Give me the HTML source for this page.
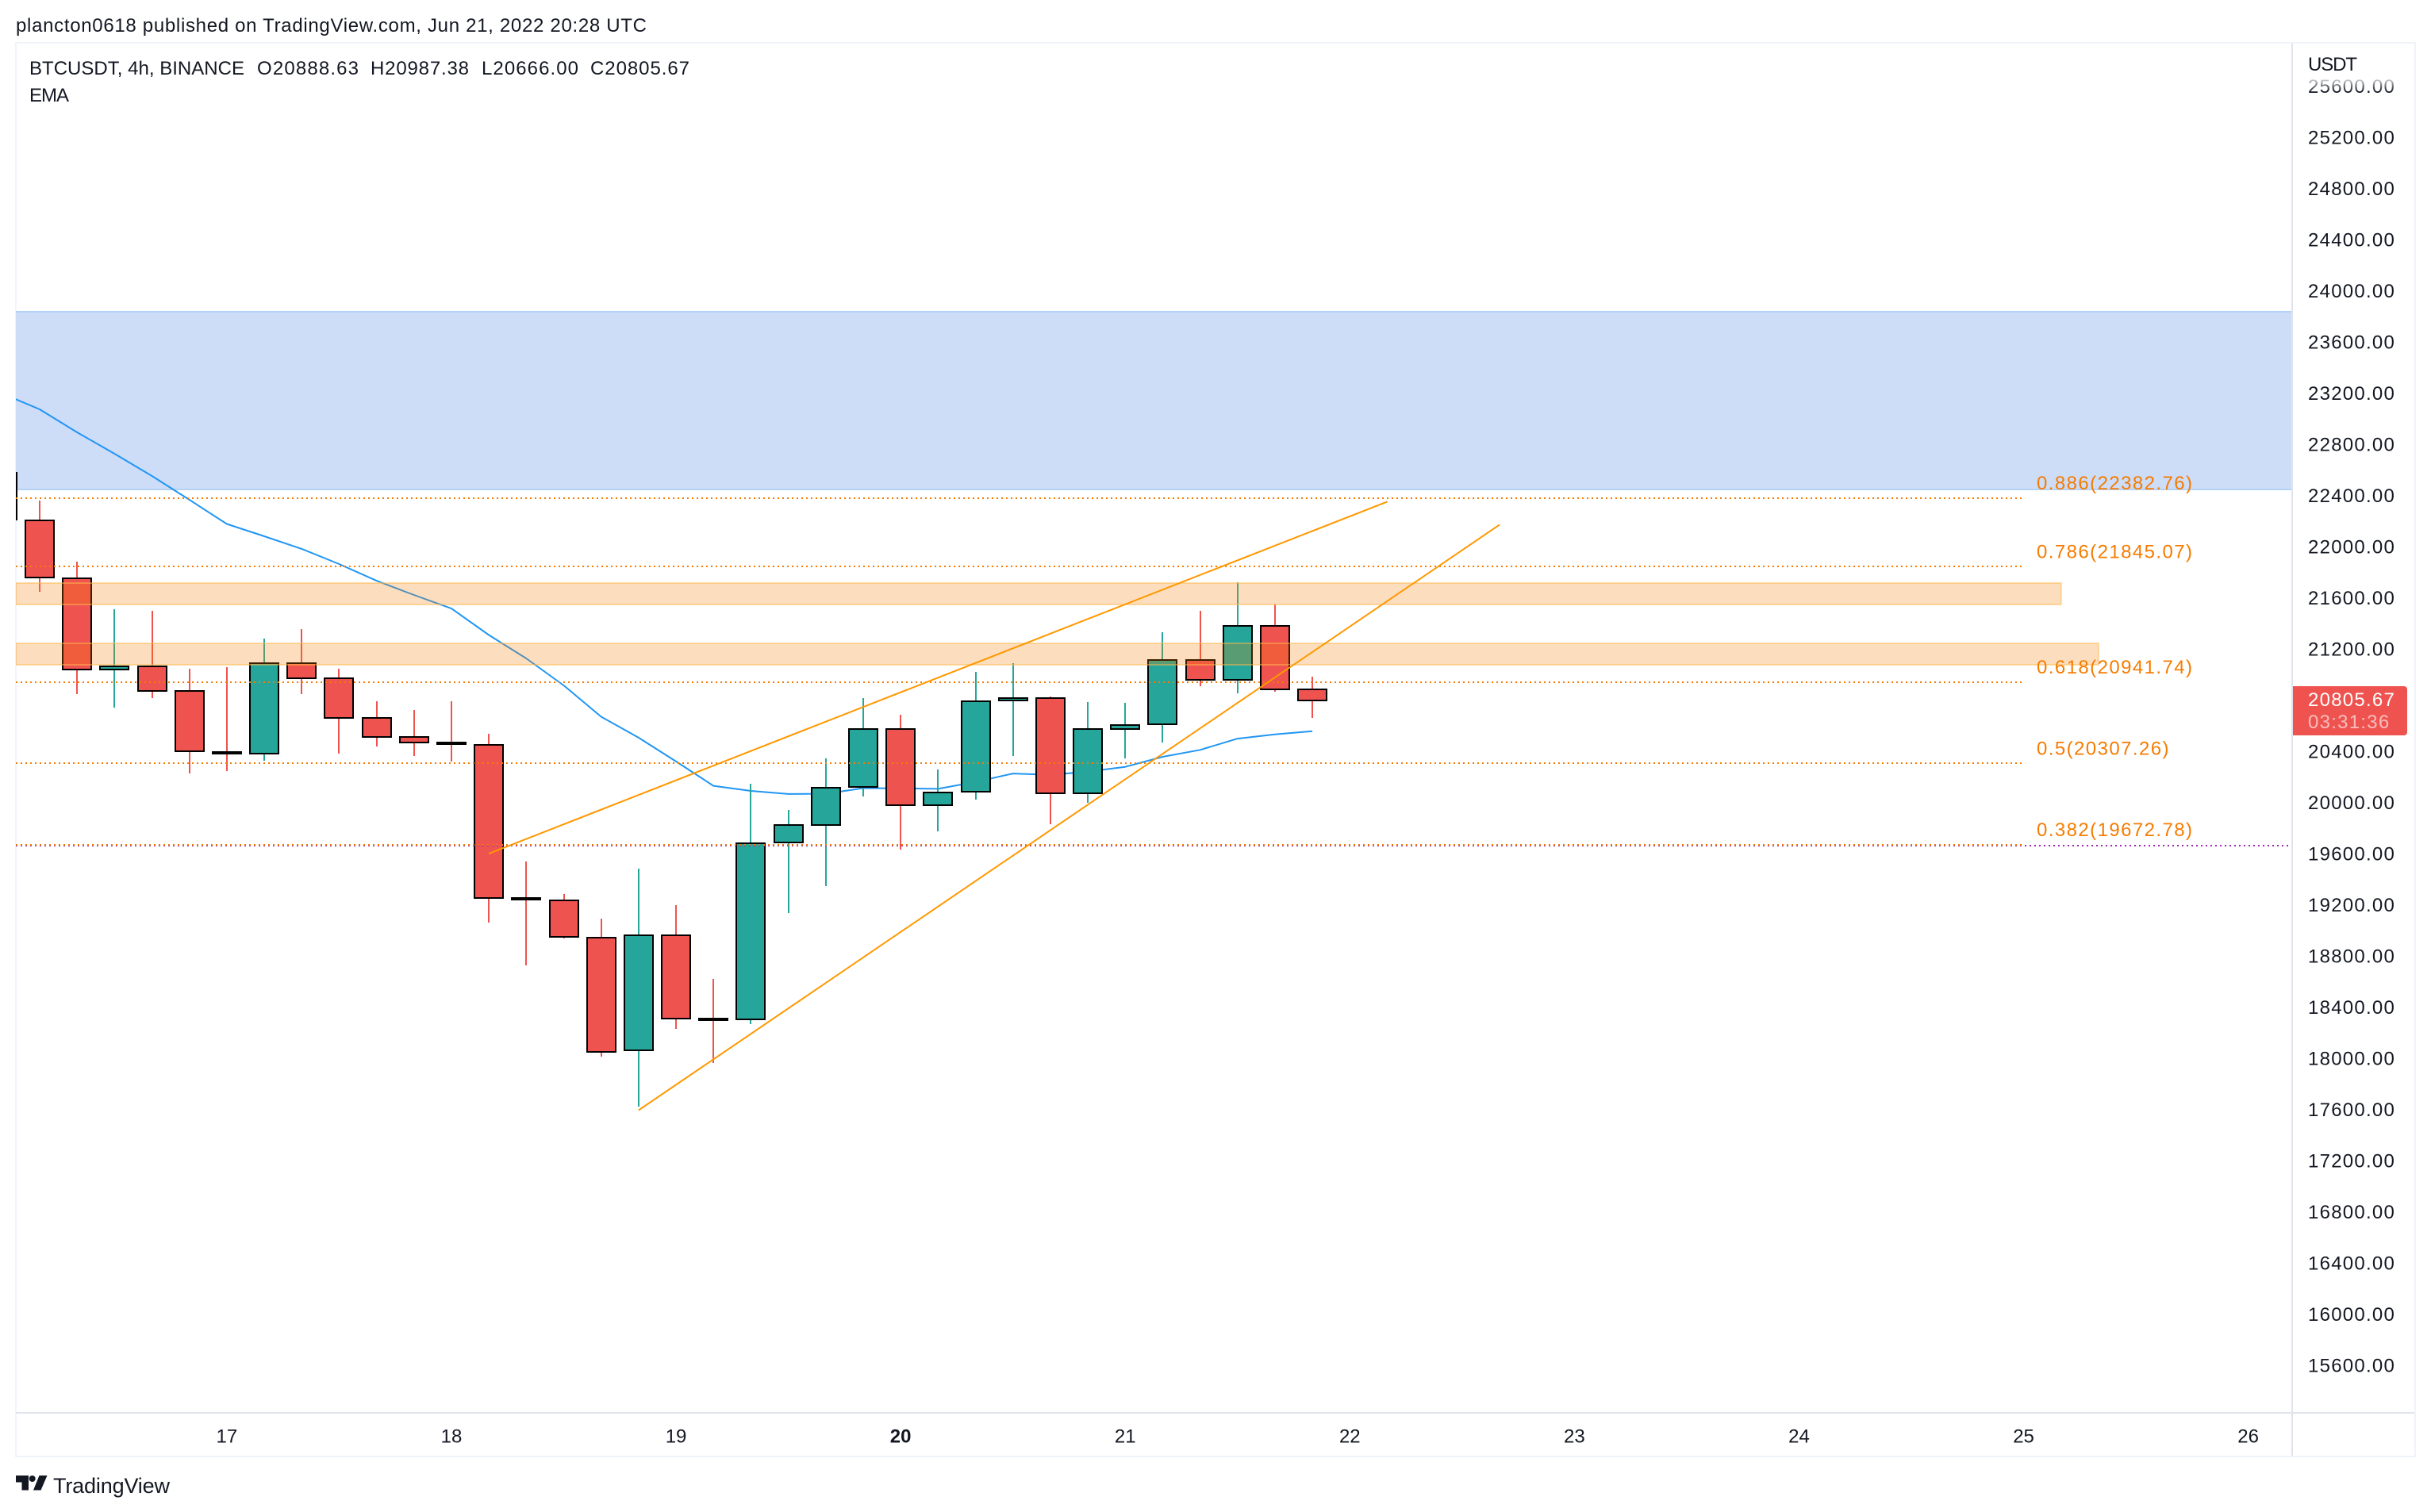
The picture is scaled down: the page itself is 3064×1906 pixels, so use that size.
<!DOCTYPE html>
<html lang="en">
<head>
<meta charset="utf-8">
<title>BTCUSDT 4h chart</title>
<style>
html,body{margin:0;padding:0;background:#fff;width:3064px;height:1906px;overflow:hidden}
svg{display:block}
text{font-family:"Liberation Sans",sans-serif;font-size:24px;fill:#131722}
</style>
</head>
<body>
<svg id="root" xmlns="http://www.w3.org/2000/svg" width="3064" height="1906" viewBox="0 0 3064 1906">
  <defs>
    <clipPath id="plot-clip"><rect x="20" y="55" width="2868" height="1725"/></clipPath>
    <linearGradient id="fade" x1="0" y1="0" x2="0" y2="1">
      <stop offset="0" stop-color="#fff" stop-opacity="1"/>
      <stop offset="1" stop-color="#fff" stop-opacity="0"/>
    </linearGradient>
  </defs>
  <text x="20" y="40" textLength="795" lengthAdjust="spacing">plancton0618 published on TradingView.com, Jun 21, 2022 20:28 UTC</text>

  <rect x="19" y="53" width="2" height="1784" fill="#f0f3fa"/>
  <g id="plot" clip-path="url(#plot-clip)"></g>
  <g id="axis-labels"></g>

  <rect x="2895" y="96" width="140" height="20" fill="url(#fade)"/>
  <rect x="2895" y="56" width="140" height="40" fill="#fff"/>
  <text x="2909" y="89" textLength="62" lengthAdjust="spacing">USDT</text>

  <path d="M2888 865H3030a4 4 0 0 1 4 4V923a4 4 0 0 1-4 4H2888Z" fill="#ef5350"/>
  <text x="2909" y="890" style="fill:#fff;letter-spacing:1.25px">20805.67</text>
  <text x="2909" y="918" style="fill:#fff;fill-opacity:.62;letter-spacing:1.25px">03:31:36</text>

  <rect x="2888" y="54" width="2" height="1782" fill="#e0e3eb"/>
  <rect x="20" y="1780" width="3024" height="2" fill="#e0e3eb"/>
  <rect x="19" y="53" width="3026" height="2" fill="#f0f3fa"/>
  <rect x="19" y="1835" width="3026" height="2" fill="#f0f3fa"/>
  <rect x="3043" y="53" width="2" height="1784" fill="#f0f3fa"/>

  <text x="37" y="94" textLength="271" lengthAdjust="spacing">BTCUSDT, 4h, BINANCE</text>
  <text x="324" y="94" textLength="128" lengthAdjust="spacing">O20888.63</text>
  <text x="467" y="94" textLength="124" lengthAdjust="spacing">H20987.38</text>
  <text x="607" y="94" textLength="122" lengthAdjust="spacing">L20666.00</text>
  <text x="744" y="94" textLength="125" lengthAdjust="spacing">C20805.67</text>
  <text x="37" y="128" textLength="50" lengthAdjust="spacing">EMA</text>

  <g>
    <path d="M20 1860H36V1878.5H27.5V1868.5H20ZM49.5 1860H59.5L51.5 1878.5H42Z" fill="#131722"/>
    <circle cx="40.7" cy="1864" r="4" fill="#131722"/>
  </g>
  <text x="67" y="1882" textLength="147" lengthAdjust="spacing" style="font-size:27px">TradingView</text>
</svg>

<script>
// Bars are numbered from -1 (the partly hidden bar at the left edge) to 34.
const firstBar = -1;
const opens  = [22583,22211,21758,21045,21070,20875,20400,20389,21096,20975,20664,20518,20472,20457,19258,19240,18951,18066,18968,18316,18309,19694,19832,20126,20577,19984,20092,20803,20822,20077,20582,20617,21119,20964,21388,20888.63];
const highs  = [22600,22366,21886,21514,21502,21049,21064,21284,21364,21049,20795,20726,20795,20541,19542,19292,19100,19491,19204,18625,20151,19945,20349,20820,20692,20261,21024,21092,20835,20791,20786,21336,21504,21727,21552,20987.38];
const lows   = [22200,21654,20854,20750,20823,20234,20254,20334,20854,20389,20446,20369,20325,19069,18734,18944,18018,17625,18233,17966,18270,19138,19354,20055,19640,19780,20030,20371,19837,20003,20349,20476,20915,20861,20873,20666.00];
const closes = [22217,21766,21046,21070,20875,20406,20390,21096,20975,20664,20518,20472,20462,19259,19248,18955,18056,18968,18316,18306,19689,19827,20121,20577,19984,20084,20798,20822,20077,20577,20611,21119,20964,21388,20890,20805.67];
const emaValues = [23203,23079,22899,22732,22558,22372,22183,22087,21988,21870,21739,21628,21522,21315,21132,20921,20676,20512,20326,20136,20096,20072,20074,20118,20116,20112,20166,20232,20222,20247,20284,20363,20417,20505,20538,20563];
const priceTicks = [25600,25200,24800,24400,24000,23600,23200,22800,22400,22000,21600,21200,20800,20400,20000,19600,19200,18800,18400,18000,17600,17200,16800,16400,16000,15600];
const dayLabels = [17,18,19,20,21,22,23,24,25,26];
const dayStartBars = [5,11,17,23,29,35,41,47,53,59];
const boldDay = 20;
const fibRatios = ["0.886","0.786","0.618","0.5","0.382"];
const fibPrices = [22382.76,21845.07,20941.74,20307.26,19672.78];
const fibEndBar = 53;
const orangeZoneTops = [21723,21250];
const orangeZoneBottoms = [21553,21082];
const orangeZoneEndBars = [54,55];
const blueZoneTop = 23842;
const blueZoneBottom = 22453;
const trendStartBars = [12,16];
const trendStartPrices = [19606,17600];
const trendEndBars = [36,39];
const trendEndPrices = [22357,22177];

const X = i => 50 + 47.18 * i;
const Y = p => 174 + (25200 - p) * 0.16125;
const NS = 'http://www.w3.org/2000/svg';
const plot = document.getElementById('plot');
const axisLabels = document.getElementById('axis-labels');

function mk(tag, parent, attrs) {
  const el = document.createElementNS(NS, tag);
  for (const k in attrs) el.setAttribute(k, attrs[k]);
  parent.appendChild(el);
  return el;
}

// Blue supply zone
const blueTop = Math.round(Y(blueZoneTop));
const blueBottom = Math.round(Y(blueZoneBottom));
const blue = mk('rect', plot, {x: 20, y: blueTop, width: 2868, height: blueBottom - blueTop, fill: '#cddcf7'});


const blueEdgeTop = mk('rect', plot, {x: 20, y: blueTop - 1, width: 2868, height: 2, fill: '#b4d2f5'});


const blueEdgeBottom = mk('rect', plot, {x: 20, y: blueBottom - 1, width: 2868, height: 2, fill: '#b4d2f5'});



// EMA
const emaPath = emaValues.map((v, k) => (k ? 'L' : 'M') + X(firstBar + k).toFixed(1) + ' ' + Y(v).toFixed(1)).join('');
const ema = mk('path', plot, {d: emaPath, fill: 'none', stroke: '#2196f3', 'stroke-width': 2, 'stroke-linejoin': 'round'});



// Candles
opens.forEach((o, k) => {
  const c = closes[k];
  const col = c >= o ? '#26a69a' : '#ef5350';
  const cx = Math.round(X(firstBar + k));
  const g = mk('g', plot, {});
  
  
  const wickTop = Math.round(Y(highs[k]));
  const wick = mk('rect', g, {x: cx - 1, y: wickTop, width: 2, height: Math.round(Y(lows[k])) - wickTop, fill: col, 'shape-rendering': 'crispEdges'});
  
  
  const top = Math.round(Y(Math.max(o, c)));
  const h = Math.max(2, Math.round(Y(Math.min(o, c))) - top);
  const body = mk('rect', g, {x: cx - 18, y: top, width: 36, height: h, fill: col, stroke: '#000', 'stroke-width': 2, 'shape-rendering': 'crispEdges'});
  
  
});

// Purple extension of the 0.382 level
const lastFib = fibPrices[fibPrices.length - 1];
const purpleY = Math.floor(Y(lastFib)) + 1;
const purple = mk('line', plot, {x1: 20, x2: 2884, y1: purpleY, y2: purpleY, stroke: '#9c27b0', 'stroke-width': 2, 'stroke-dasharray': '2 4', 'shape-rendering': 'crispEdges'});



// Fibonacci levels
fibPrices.forEach((p, k) => {
  const ly = Math.floor(Y(p));
  const line = mk('line', plot, {x1: 20, x2: X(fibEndBar), y1: ly, y2: ly, stroke: '#f57c00', 'stroke-width': 2, 'stroke-dasharray': '2 4', 'shape-rendering': 'crispEdges'});
  
  
});

// Orange zones
orangeZoneTops.forEach((t, k) => {
  const zt = Math.round(Y(t));
  const z = mk('rect', plot, {x: 20, y: zt, width: X(orangeZoneEndBars[k]) - 20, height: Math.round(Y(orangeZoneBottoms[k])) - zt, fill: 'rgba(245,124,0,.25)', stroke: 'rgba(255,183,77,.5)', 'stroke-width': 2});
  
  
});

// Trend lines
trendStartBars.forEach((b, k) => {
  const l = mk('line', plot, {x1: X(b), y1: Y(trendStartPrices[k]), x2: X(trendEndBars[k]), y2: Y(trendEndPrices[k]), stroke: '#ff9800', 'stroke-width': 2});
  
  
});

// Fibonacci labels
fibPrices.forEach((p, k) => {
  const t = mk('text', plot, {x: 2567, y: Y(p) - 11.5, style: 'fill:#f57c00;letter-spacing:1.42px'});
  t.textContent = fibRatios[k] + '(' + p.toFixed(2) + ')';
  
  
});

// Price axis labels
priceTicks.forEach(p => {
  const t = mk('text', axisLabels, {x: 2909, y: Y(p) + 7.5, style: 'letter-spacing:1.25px'});
  t.textContent = p.toFixed(2);
  
  
});

// Time axis labels
dayLabels.forEach((d, k) => {
  const bold = d === boldDay ? 'font-weight:bold;' : '';
  const t = mk('text', axisLabels, {x: X(dayStartBars[k]), y: 1818.5, 'text-anchor': 'middle', style: bold});
  t.textContent = String(d);
  
  
});
</script>
</body>
</html>
